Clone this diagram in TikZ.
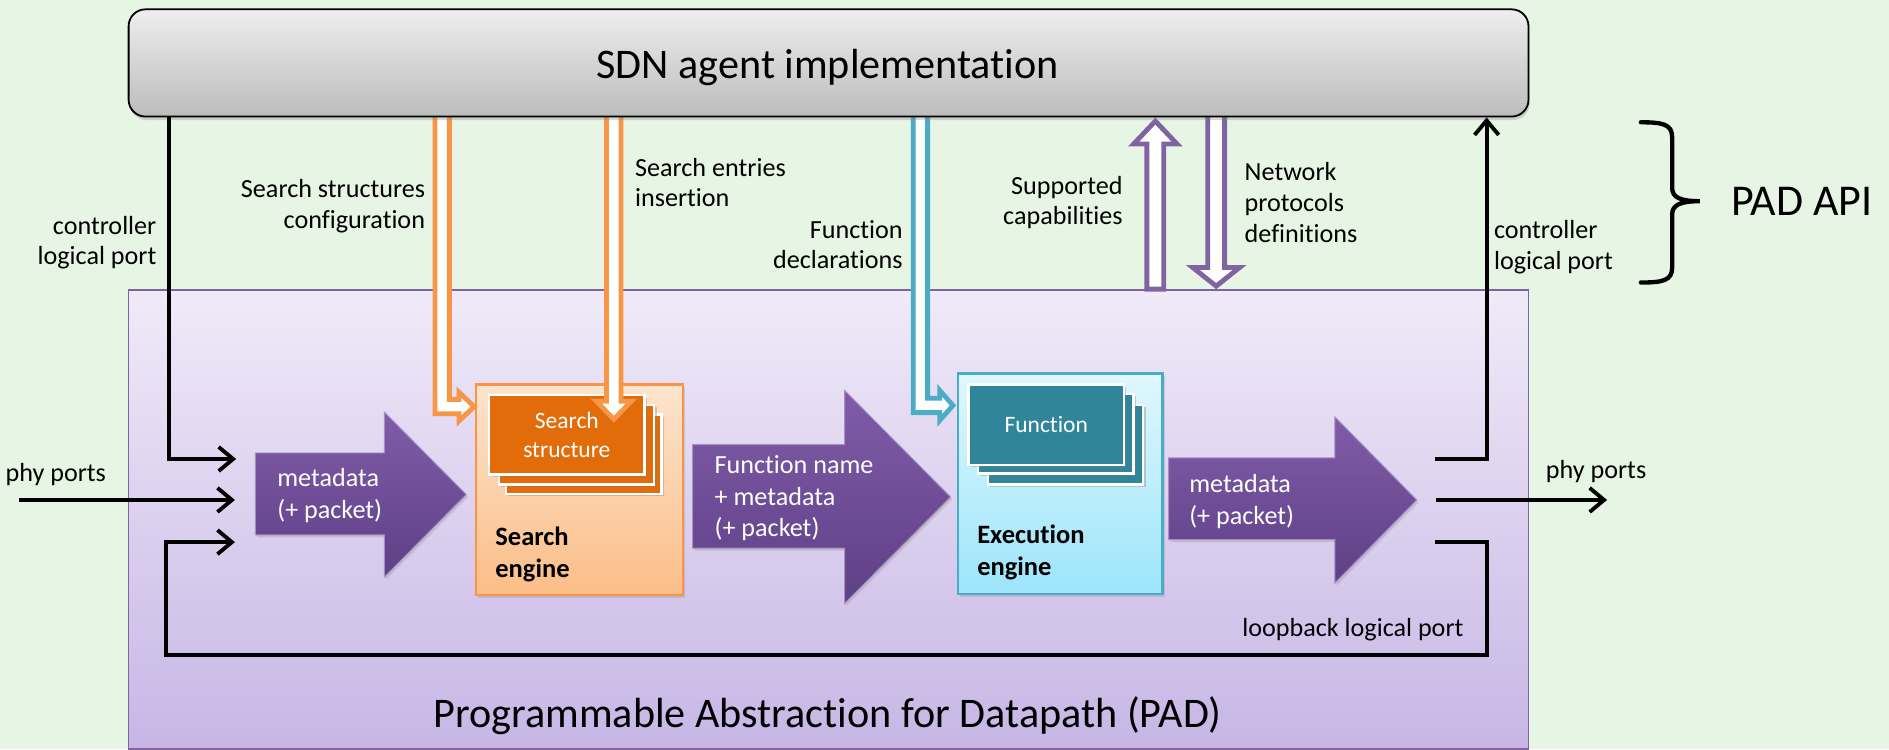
\documentclass[tikz,border=0pt]{standalone}
\usepackage{fontspec}
\setmainfont{Carlito}[Ligatures={NoCommon,NoContextual}]
\usetikzlibrary{arrows.meta,shadows}

\definecolor{bg}{RGB}{231,245,228}
\definecolor{padtop}{RGB}{240,234,248}
\definecolor{padbot}{RGB}{199,182,229}
\definecolor{padline}{RGB}{128,100,162}
\definecolor{sdntop}{RGB}{238,238,238}
\definecolor{sdnbot}{RGB}{188,188,188}
\definecolor{orline}{RGB}{247,150,70}
\definecolor{ortop}{RGB}{253,228,206}
\definecolor{orbot}{RGB}{251,190,135}
\definecolor{orcard}{RGB}{227,108,10}
\definecolor{cyline}{RGB}{75,172,198}
\definecolor{cytop}{RGB}{224,247,253}
\definecolor{cybot}{RGB}{156,229,250}
\definecolor{cycard}{RGB}{49,133,155}
\definecolor{artop}{RGB}{128,92,168}
\definecolor{arbot}{RGB}{94,64,134}

\tikzset{
  lbl/.style={inner sep=0pt, font=\fontsize{21.7}{25.5}\selectfont},
  arrtext/.style={inner sep=0pt, text=white, align=left, anchor=west, font=\fontsize{21.7}{26.5}\selectfont},
  engtext/.style={inner sep=0pt, align=left, anchor=west, font=\bfseries\fontsize{22}{26.5}\selectfont},
  conn/.style={line width=3.2pt, -{Straight Barb[length=12pt,width=20pt]}},
  hollow/.style={fill=white, line width=4pt, line join=miter, miter limit=20},
  blockarrow/.style={top color=artop, bottom color=arbot, draw=artop!70!white, line width=0.8pt,
    drop shadow={shadow xshift=1.5pt, shadow yshift=-2pt, opacity=0.25}},
  card/.style={draw=white, line width=2pt, minimum width=129pt, minimum height=66pt, anchor=north west,
    inner sep=0pt, text=white, align=center, font=\fontsize{19.5}{23.5}\selectfont,
    drop shadow={shadow xshift=2pt, shadow yshift=-2pt, opacity=0.35}},
  engine/.style={line width=2pt, anchor=north west, inner sep=0pt,
    drop shadow={shadow xshift=2pt, shadow yshift=-2.5pt, opacity=0.25}},
}

\begin{document}
\begin{tikzpicture}[x=1pt,y=-1pt]
\useasboundingbox (0,0) rectangle (1568,622);
\fill[bg] (0,0) rectangle (1568,622);

% datapath container
\node[draw=padline, line width=1.2pt, top color=padtop, bottom color=padbot,
      minimum width=1162pt, minimum height=381pt, inner sep=0pt, anchor=north west] (pad) at (106,240) {};
\node[anchor=base, inner sep=0pt, font=\fontsize{35}{40}\selectfont] (padtitle) at (687,604)
  {Programmable Abstraction for Datapath (PAD)};

% search engine
\node[engine, draw=orline, top color=ortop, bottom color=orbot,
      minimum width=172pt, minimum height=175pt] (se) at (394,318) {};
\node[card, fill=orcard] (ss3) at (419,343) {};
\node[card, fill=orcard] (ss2) at (413,335) {};
\node[card, fill=orcard] (ss1) at (405,327) {Search\\structure};
\node[engtext] (setext) at (411,460) {Search\\engine};

% execution engine
\node[engine, draw=cyline, top color=cytop, bottom color=cybot,
      minimum width=170pt, minimum height=183pt] (ee) at (794,309) {};
\node[card, fill=cycard] (fn3) at (819,335) {};
\node[card, fill=cycard] (fn2) at (811,326) {};
\node[card, fill=cycard, minimum height=67pt] (fn1) at (803,318) {Function};
\node[engtext] (eetext) at (811,458.5) {Execution\\engine};

% block arrows carrying the data
\path[blockarrow] (212,376) -- (319,376) -- (319,342) -- (387,410.5) -- (319,479) -- (319,444) -- (212,444) -- cycle;
\node[arrtext] (a1) at (230,411.5) {metadata\\(+ packet)};
\path[blockarrow] (575,369) -- (701,369) -- (701,324) -- (789,412.5) -- (701,501) -- (701,455) -- (575,455) -- cycle;
\node[arrtext] (a2) at (593,413.5) {Function name\\+ metadata\\(+ packet)};
\path[blockarrow] (970,380) -- (1108,380) -- (1108,346) -- (1176,415) -- (1108,484) -- (1108,448) -- (970,448) -- cycle;
\node[arrtext] (a3) at (987,416) {metadata\\(+ packet)};

% API calls (hollow arrows)
\draw[hollow, draw=orline] (361,90) -- (361,343.5) -- (381,343.5) -- (381,349.5) -- (393.5,337.5)
  -- (381,325.5) -- (381,331.5) -- (373,331.5) -- (373,90) -- cycle;
\draw[hollow, draw=orline] (503.5,90) -- (503.5,333) -- (495,333) -- (509.5,348) -- (524,333)
  -- (515.5,333) -- (515.5,90) -- cycle;
\draw[hollow, draw=cyline] (758,90) -- (758,342.5) -- (780,342.5) -- (780,349) -- (791,336.5)
  -- (780,324) -- (780,330.5) -- (770,330.5) -- (770,90) -- cycle;
\draw[hollow, draw=padline] (952,240) -- (952,119.5) -- (941,119.5) -- (959,100.5) -- (977,119.5)
  -- (966,119.5) -- (966,240) -- cycle;
\draw[hollow, draw=padline] (1002.5,90) -- (1002.5,222) -- (990,222) -- (1009.5,237.5) -- (1029,222)
  -- (1016.5,222) -- (1016.5,90) -- cycle;

% SDN agent
\node[draw=black, line width=1.5pt, rounded corners=14pt, top color=sdntop, bottom color=sdnbot,
      minimum width=1162pt, minimum height=89pt, inner sep=0pt, anchor=north west,
      drop shadow={shadow xshift=1pt, shadow yshift=-3pt, opacity=0.3}] (sdn) at (106,7) {};
\node[anchor=base, inner sep=0pt, font=\fontsize{35}{40}\selectfont] (sdntitle) at (687,65)
  {SDN agent implementation};

% port connectors
\coordinate (ctlLx) at (140,0);
\coordinate (ctlRx) at (1234,0);
\coordinate (inCtl) at (196,381);
\coordinate (inPhy) at (195,415);
\coordinate (inLoop) at (195,450);
\coordinate (outCtl) at (1191,381);
\coordinate (outPhy) at (1192,415);
\coordinate (outLoop) at (1191,450);
\coordinate (phyL) at (16,415);
\coordinate (phyR) at (1334,415);
\coordinate (lbR) at (1234,544);
\coordinate (lbL) at (138,544);

\draw[conn] (ctlLx |- sdn.south) |- (inCtl);
\draw[conn] (phyL) -- (inPhy);
\draw[conn] (outLoop) -| (lbR) -- (lbL) |- (inLoop);
\draw[conn] (outCtl) -| (ctlRx |- sdn.south);
\draw[conn] (outPhy) -- (phyR);

% labels
\node[lbl, anchor=east, align=right] (lctl) at (130,201.5) {controller\\logical port};
\node[lbl, anchor=east, align=right] (lcfg) at (353,171) {Search structures\\configuration};
\node[lbl, anchor=west, align=left] (lins) at (527,151.5) {Search entries\\insertion};
\node[lbl, anchor=east, align=right] (lfun) at (749.5,203) {Function\\declarations};
\node[lbl, anchor=east, align=right] (lcap) at (932,168) {Supported\\capabilities};
\node[lbl, anchor=west, align=left] (lnet) at (1033,168) {Network\\protocols\\definitions};
\node[lbl, anchor=west, align=left] (rctl) at (1240,205) {controller\\logical port};
\node[lbl, anchor=east] (lloop) at (1215,523) {loopback logical port};
\node[lbl, anchor=west] (lphyin) at (4.5,394) {phy ports};
\node[lbl, anchor=west] (lphyout) at (1283,391) {phy ports};

% API brace
\draw[line width=3.6pt, line cap=round] (1362,101.5) .. controls (1380,101.5) and (1388,103) .. (1388,114)
  -- (1388,156) .. controls (1388,164) and (1395,167) .. (1411,167)
  .. controls (1395,167) and (1388,170) .. (1388,178)
  -- (1388,222) .. controls (1388,233) and (1380,234.5) .. (1362,234.5);
\node[anchor=west, inner sep=0pt, font=\fontsize{36.5}{42}\selectfont] (api) at (1437,167) {PAD API};
\end{tikzpicture}
\end{document}
